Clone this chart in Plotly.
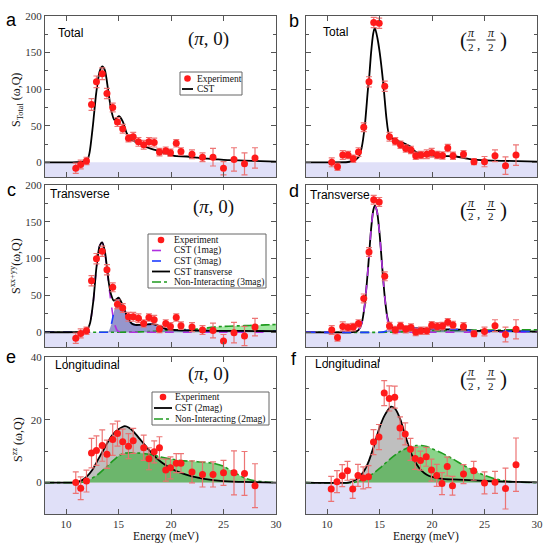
import plotly.graph_objects as go

W = H = 543
SERIF = "Liberation Serif"
SANS = "Liberation Sans"

# ---------------- data ----------------
# Panel a: Total, (pi,0)
a_exp_x = [10.93, 11.4, 11.95, 12.43, 12.9, 13.45, 13.9, 14.45, 14.9, 15.4, 15.95, 16.4, 16.9, 17.4,
           17.9, 18.4, 18.9, 19.5, 19.95, 20.5, 20.95, 22, 23, 24, 25, 26, 27, 28]
a_exp_y = [-8, -3, 2, 79, 110, 121, 94, 75, 55, 46, 33, 35, 28, 24,
           28, 27, 14, 16, 13, 26, 15, 11, 7, 7, -8, 4, -2, 6]
a_exp_e = [7, 6, 5, 8, 8, 8, 7, 6, 6, 6, 5, 6, 6, 6,
           6, 6, 5, 5, 5, 5, 5, 6, 6, 12, 9, 16, 15, 14]
a_cst_x = [8, 10, 11, 11.5, 12, 12.24, 12.56, 12.88, 13.2, 13.45, 13.7, 14.0, 14.3, 14.6, 14.85, 15.05,
           15.4, 15.75, 16.1, 16.5, 17, 17.5, 18, 18.5, 19, 19.5, 20, 20.5, 21.5, 22.5, 23.5, 24.5,
           25.5, 27, 28.5, 30]
a_cst_y = [0, 0, 0.3, 0.8, 2, 13, 50, 95, 124, 131, 126, 100, 72, 58, 61, 63,
           56, 41, 32, 29, 26, 22, 19, 17, 15, 12, 9.5, 8.5, 8, 6.5, 5, 4,
           3, 2.5, 1.8, 1]

# Panel b: Total, (pi/2,pi/2)
b_exp_x = [10.45, 11, 11.5, 12, 12.5, 13, 13.5, 14, 14.45, 14.97, 15.5, 15.95, 16.5, 17, 17.5, 18,
           18.45, 18.95, 19.5, 19.97, 20.5, 21, 21.5, 22, 23, 24, 25, 26, 27, 28]
b_exp_y = [0, -6, 10, 10, 5, 14, 48, 110, 191, 190, 104, 35, 29, 24, 19, 17,
           9, 10, 11, 13, 10, 9.5, 19.5, 9, 11, 1, 1, 9, -4.5, 10]
b_exp_e = [6, 5, 6, 5, 5, 6, 6, 7, 7, 7, 7, 6, 5, 5, 5, 5,
           5, 5, 6, 6, 5, 5, 5, 5, 5, 4, 7, 8, 12, 14]
b_cst_x = [8, 10, 12, 12.5, 13, 13.3, 13.6, 13.9, 14.0, 14.2, 14.4, 14.55, 14.8, 15.03, 15.35, 15.67,
           15.9, 16.2, 16.6, 17.0, 17.5, 17.9, 18.3, 18.8, 19.5, 20.4, 21.3, 22.3, 23.6, 25.2, 27, 30]
b_cst_y = [0, 0, 0.5, 2, 7, 20, 50, 100, 113, 150, 176, 184, 170, 149, 109, 59,
           38, 33, 30, 28, 25, 22, 16, 12, 10, 9, 8.5, 8, 4.5, 2.7, 2, 1]

# Panel c: Transverse, (pi,0)
c_exp_x = [10.93, 11.4, 11.95, 12.43, 12.9, 13.45, 13.9, 14.45, 14.9, 15.4, 15.95, 16.4, 16.9, 17.4,
           17.9, 18.4, 18.9, 19.5, 19.95, 20.5, 20.95, 22, 23, 24, 25, 26, 27, 28]
c_exp_y = [-8, -1.5, 2, 70, 100, 110, 85, 61, 38, 33, 21, 21, 19, 12,
           20, 17, 4.5, 12, 8, 20, 9, 7, 3, 2.5, -12, -0.5, -5, 7]
c_exp_e = [7, 6, 5, 7, 7, 7, 7, 6, 6, 6, 6, 6, 6, 5,
           5, 6, 5, 5, 5, 5, 5, 6, 6, 10, 9, 14, 13, 12]
c_tot_x = [8, 10, 11, 11.5, 12, 12.3, 12.6, 12.9, 13.2, 13.45, 13.7, 13.9, 14.1, 14.3, 14.55, 14.8,
           15.0, 15.2, 15.45, 15.7, 15.9, 16.25, 16.6, 17, 17.6, 18.3, 19, 19.6, 20.5, 22, 24.5, 27, 30]
c_tot_y = [0, 0, 0.1, 0.6, 3, 13, 42, 88, 117, 122, 110, 88, 65, 51, 43, 45,
           47, 43, 35, 26, 19, 12, 10, 10, 10.5, 11, 8, 4, 3, 2.5, 2, 1.8, 1.5]
c_1mag_x = [8, 10, 11, 11.5, 12, 12.3, 12.6, 12.9, 13.2, 13.45, 13.7, 13.9, 14.2, 14.5, 14.7, 14.9,
            15.2, 16, 20, 25, 30]
c_1mag_y = [0, 0, 0.1, 0.6, 3, 13, 42, 88, 117, 122, 108, 85, 50, 20, 8, 2,
            0, 0, 0, 0, 0]
c_3mag_x = [8, 12, 13.5, 14.0, 14.3, 14.6, 14.9, 15.05, 15.4, 15.9, 16.25, 16.6, 17, 17.6, 18.3, 19,
            19.6, 20.5, 22, 24.5, 27, 30]
c_3mag_y = [0, 0, 0, 0.5, 10, 30, 44, 46, 36, 19, 12, 10, 10, 10.5, 11, 8,
            4, 3, 2.5, 2, 1.8, 1.5]
c_ni_x = [8, 14, 16, 18, 19, 20, 21, 22, 23, 24, 25, 26, 27, 28, 29, 30]
c_ni_y = [0, 0, 0.3, 1, 2, 3, 3.5, 4, 5, 7, 8, 8.5, 9, 9.5, 10, 10.5]

# Panel d: Transverse, (pi/2,pi/2)
d_exp_x = [10.45, 11, 11.5, 12, 12.5, 13, 13.5, 14, 14.45, 14.97, 15.5, 15.95, 16.5, 17, 17.5, 18,
           18.45, 18.95, 19.5, 19.97, 20.5, 21, 21.5, 22, 23, 24, 25, 26, 27, 28]
d_exp_y = [3, -7, 8, 6.5, 7, 12, 46, 109, 180, 177, 76, 8.5, 3, 8.5, 4, 6.5,
           0.5, 2, 2, 9.5, 8, 8.5, 13.5, 10, 8, -2, 1, 9, -3, 4]
d_exp_e = [6, 5, 6, 5, 5, 5, 6, 6, 6, 6, 6, 5, 5, 5, 5, 5,
           5, 5, 5, 5, 5, 5, 5, 5, 5, 4, 6, 8, 10, 13]
d_tot_x = [8, 12, 12.6, 13, 13.3, 13.6, 13.9, 14.2, 14.4, 14.55, 14.75, 15.0, 15.25, 15.5, 15.75, 16.0,
           16.3, 16.6, 17, 17.5, 18, 18.5, 19, 20, 21, 22, 23, 24, 25, 27, 30]
d_tot_y = [0, 0, 0.5, 3, 12, 38, 85, 140, 165, 172, 165, 135, 90, 48, 20, 9,
           6, 6, 6.5, 7, 6.5, 5.5, 5, 4.5, 4, 4, 3.5, 2, 2, 1.5, 1]
d_1mag_x = [8, 12, 12.6, 13, 13.3, 13.6, 13.9, 14.2, 14.4, 14.55, 14.75, 15.0, 15.25, 15.5, 15.75, 16.0,
            16.3, 16.6, 17, 20, 25, 30]
d_1mag_y = [0, 0, 0.5, 3, 12, 38, 85, 140, 165, 172, 165, 135, 90, 48, 18, 5,
            1.5, 0.3, 0, 0, 0, 0]
d_3mag_x = [8, 15, 15.4, 15.8, 16.2, 16.6, 17, 17.5, 18, 18.5, 19, 20, 21, 22, 23, 24, 25, 27, 30]
d_3mag_y = [0, 0, 0.5, 2.5, 5, 6, 6.5, 7, 6.5, 5.5, 5, 4.5, 4, 4, 3.5, 2, 2, 1.5, 1]
d_ni_x = [8, 16, 17, 18, 20, 22, 24, 26, 28, 30]
d_ni_y = [0, 0, 0.5, 1.5, 2, 2.5, 3, 3, 3.5, 3.5]

# Panel e: Longitudinal, (pi,0)
e_exp_x = [10.93, 11.4, 11.95, 12.43, 12.9, 13.45, 13.9, 14.45, 14.9, 15.4, 15.95, 16.4, 17.4, 17.9,
           18.4, 18.9, 19.5, 19.95, 20.5, 20.95, 22, 23, 24, 25, 26, 27, 28]
e_exp_y = [0, -1.8, 0.5, 9.4, 10.2, 11.8, 9, 13.7, 15.6, 13, 11.6, 13.3, 11.1, 7.6,
           9.8, 11.1, 4, 4.7, 6.2, 6.2, 3.4, 2.6, 2.6, 3.1, 3.1, 2.9, -1]
e_exp_e = [3.4, 3.6, 3.5, 4.7, 4.7, 5, 4.5, 5, 4, 4, 4, 4, 4, 3.5,
           3.5, 3.5, 3.5, 3.5, 3, 3, 3.5, 4, 4, 4, 7, 7, 7]
e_cst_x = [8, 10, 11, 11.5, 12, 12.5, 13, 13.5, 14, 14.5, 15, 15.6, 16, 16.5, 17, 17.5,
           18, 18.5, 19, 19.5, 20, 21, 22, 23, 24, 25, 27, 30]
e_cst_y = [0, 0, 0.1, 0.7, 2, 4, 7, 10, 13, 15.5, 17, 18, 17.5, 16, 14, 12,
           10, 8.2, 6.7, 5.5, 4.5, 3, 2, 1.3, 0.8, 0.5, 0.2, 0]
e_ni_x = [8, 11, 11.5, 12, 13, 14, 15, 15.5, 16, 17, 18, 19, 20, 21, 22, 23,
          24, 25, 26, 27, 28, 29, 30]
e_ni_y = [0, 0, 0.1, 0.5, 2.5, 5.5, 8.5, 9.3, 9.5, 9.4, 9, 8.2, 7.5, 7, 6.8, 6.5,
          6.2, 5.2, 3.3, 1.5, 0.6, 0.2, 0]

# Panel f: Longitudinal, (pi/2,pi/2)
f_exp_x = [10.4, 10.95, 11.45, 11.95, 12.45, 12.95, 13.45, 13.95, 14.43, 14.95, 15.45, 15.93, 16.45,
           16.95, 17.45, 17.95, 18.4, 18.9, 19.45, 19.95, 20.45, 20.95, 21.45, 21.95, 23, 23.97,
           25, 26, 27, 28]
f_exp_y = [-2, 0.3, 2.2, 3.75, -2, 2.3, 1.5, 1.9, 12.9, 14.5, 28.5, 26.8, 27.2,
           17.4, 15.5, 10.6, 7.7, 7, 8.2, 4, 2.3, -0.3, 5.1, -1, 2.7, 3.75,
           -0.1, 0.1, -1.9, 5.7]
f_exp_e = [4, 3.5, 3.5, 3, 3, 3.5, 3.5, 3.5, 4, 4, 4, 4, 3.5,
           3.5, 3.5, 3.5, 3.5, 3, 3, 3.5, 3.5, 3.5, 3, 3, 3, 3,
           3.5, 3.5, 6.5, 8.5]
f_cst_x = [8, 12, 12.5, 13, 13.5, 14, 14.5, 15, 15.5, 16.1, 16.5, 17, 17.5, 18, 18.5, 19,
           19.5, 20, 21, 22, 24, 26, 28, 30]
f_cst_y = [0, 0, 0.5, 1.5, 3.5, 7, 12, 17.5, 21.5, 24.2, 23.5, 20, 14.5, 9.5, 6, 3.8,
           2.5, 1.8, 1.2, 1, 0.7, 0.4, 0.2, 0.1]
f_ni_x = [8, 12.5, 13, 14, 15, 16, 17, 18, 18.5, 19, 19.5, 20, 21, 22, 23, 24,
          25, 26, 27, 28, 29, 30]
f_ni_y = [0, 0, 0.5, 2, 4.5, 7.5, 10, 11.5, 11.8, 11.8, 11.5, 10.8, 9.3, 7.5, 5.5, 3.8,
          2.3, 1.2, 0.5, 0.2, 0.05, 0]

# ---------------- styles ----------------
RED = "#ff1a1a"
ERRC = "rgba(236,110,110,0.95)"
BLACK = "#000000"
PURPLE = "#b030e0"
BLUE = "#1c3cff"
GREEN = "#1f9a1f"
BLUE_FILL = "rgba(80,80,170,0.6)"
GREEN_FILL_LIGHT = "rgba(70,210,70,0.5)"
GRAY_FILL = "rgba(128,128,128,0.5)"
GREEN_FILL = "rgba(40,175,40,0.55)"
LAVENDER = "#e0e0f8"


def PX(x):
    return x / W


def PY(y):
    return 1 - y / H


fig = go.Figure()


def exp_trace(x, y, e, ax):
    fig.add_trace(go.Scatter(
        x=x, y=y, mode="markers", xaxis="x" + ax, yaxis="y" + ax, showlegend=False,
        marker=dict(color=RED, size=7),
        error_y=dict(type="data", array=e, color=ERRC, thickness=1.2, width=3),
    ))


def curve(x, y, ax, color, dash="solid", width=1.8):
    fig.add_trace(go.Scatter(
        x=x, y=y, mode="lines", xaxis="x" + ax, yaxis="y" + ax, showlegend=False,
        line=dict(color=color, dash=dash, width=width, shape="spline", smoothing=0.7),
    ))


def area(x, y, ax, fillcolor):
    fig.add_trace(go.Scatter(
        x=x, y=y, mode="lines", xaxis="x" + ax, yaxis="y" + ax, showlegend=False,
        line=dict(width=0, shape="spline", smoothing=0.7), fill="tozeroy", fillcolor=fillcolor,
        hoverinfo="skip",
    ))


# a
curve(a_cst_x, a_cst_y, "", BLACK)
exp_trace(a_exp_x, a_exp_y, a_exp_e, "")
# b
curve(b_cst_x, b_cst_y, "2", BLACK)
exp_trace(b_exp_x, b_exp_y, b_exp_e, "2")
# c
area(c_ni_x, c_ni_y, "3", GREEN_FILL_LIGHT)
area(c_3mag_x, c_3mag_y, "3", BLUE_FILL)
curve(c_ni_x, c_ni_y, "3", GREEN, dash="dashdot", width=1.6)
curve(c_1mag_x, c_1mag_y, "3", PURPLE, dash="dash", width=1.6)
curve(c_3mag_x, c_3mag_y, "3", BLUE, dash="dash", width=1.6)
curve(c_tot_x, c_tot_y, "3", BLACK)
exp_trace(c_exp_x, c_exp_y, c_exp_e, "3")
# d
area(d_ni_x, d_ni_y, "4", GREEN_FILL_LIGHT)
area(d_3mag_x, d_3mag_y, "4", BLUE_FILL)
curve(d_ni_x, d_ni_y, "4", GREEN, dash="dashdot", width=1.6)
curve(d_tot_x, d_tot_y, "4", BLACK)
curve(d_1mag_x, d_1mag_y, "4", PURPLE, dash="dash", width=1.6)
curve(d_3mag_x, d_3mag_y, "4", BLUE, dash="dash", width=1.6)
exp_trace(d_exp_x, d_exp_y, d_exp_e, "4")
# e
area(e_cst_x, e_cst_y, "5", GRAY_FILL)
area(e_ni_x, e_ni_y, "5", GREEN_FILL)
curve(e_ni_x, e_ni_y, "5", GREEN, dash="dashdot", width=1.6)
curve(e_cst_x, e_cst_y, "5", BLACK)
exp_trace(e_exp_x, e_exp_y, e_exp_e, "5")
# f
area(f_cst_x, f_cst_y, "6", GRAY_FILL)
area(f_ni_x, f_ni_y, "6", GREEN_FILL)
curve(f_ni_x, f_ni_y, "6", GREEN, dash="dashdot", width=1.6)
curve(f_cst_x, f_cst_y, "6", BLACK)
exp_trace(f_exp_x, f_exp_y, f_exp_e, "6")

# ---------------- axes ----------------
col_dom = [[PX(45), PX(276)], [PX(306), PX(537)]]
row_dom = [[PY(177), PY(16)], [PY(347), PY(185)], [PY(514), PY(357)]]

base = dict(showline=True, mirror="allticks", linecolor="#555", linewidth=1, ticks="inside",
            ticklen=5, tickcolor="#555", showgrid=False, zeroline=False, automargin=False,
            tickfont=dict(family=SERIF, size=11, color="#333"))

layout_axes = {}
shapes = []
names = ["", "2", "3", "4", "5", "6"]
for i, n in enumerate(names):
    r, c = divmod(i, 2)
    xa = dict(base, domain=col_dom[c], range=[8, 30], tick0=0, dtick=5,
              anchor="y" + n, showticklabels=(r == 2))
    if r < 2:
        ya = dict(base, domain=row_dom[r], range=[-20, 200], tick0=0, dtick=50,
                  minor=dict(ticks="inside", ticklen=3, dtick=25, tickcolor="#555"))
        ylow = -20
    else:
        ya = dict(base, domain=row_dom[r], range=[-10, 40], tick0=0, dtick=20,
                  minor=dict(ticks="inside", ticklen=3, dtick=10, tickcolor="#555"))
        ylow = -10
    ya.update(anchor="x" + n, showticklabels=(c == 0))
    layout_axes["xaxis" + n] = xa
    layout_axes["yaxis" + n] = ya
    shapes.append(dict(type="rect", xref="x" + n + " domain", yref="y" + n, x0=0, x1=1,
                       y0=ylow, y1=0, fillcolor=LAVENDER, line=dict(width=0), layer="below"))

annotations = []


def txt(x, y, s, size, family=SERIF, xanchor="center", angle=0, color="#111"):
    annotations.append(dict(x=PX(x), y=PY(y), xref="paper", yref="paper", text=s,
                            showarrow=False, xanchor=xanchor, yanchor="middle", textangle=angle,
                            font=dict(family=family, size=size, color=color), borderpad=0))


# panel letters
for s, x, y in [("a", 11, 20), ("b", 294, 21), ("c", 11, 190), ("d", 294, 191), ("e", 11, 357), ("f", 294, 359)]:
    txt(x, y, s, 18, family=SANS, color="#000")

# panel titles
txt(57, 33, "Total", 12, family=SANS, xanchor="left", color="#000")
txt(322, 32, "Total", 12, family=SANS, xanchor="left", color="#000")
txt(49, 194, "Transverse", 12, family=SANS, xanchor="left", color="#000")
txt(309, 195, "Transverse", 12, family=SANS, xanchor="left", color="#000")
txt(54, 365, "Longitudinal", 12, family=SANS, xanchor="left", color="#000")
txt(314, 364, "Longitudinal", 12, family=SANS, xanchor="left", color="#000")

# momentum labels
txt(208, 39, "(<i>π</i>, 0)", 19)
txt(213, 207, "(<i>π</i>, 0)", 19)
txt(208, 374, "(<i>π</i>, 0)", 19)


def frac_label(cy):
    txt(463, cy, "(", 21)
    txt(503, cy, ")", 21)
    txt(478, cy + 4, ",", 13)
    for cx in (471, 491):
        txt(cx, cy - 7, "<i>π</i>", 12)
        txt(cx, cy + 6.5, "2", 11)
        shapes.append(dict(type="line", xref="paper", yref="paper", x0=PX(cx - 4.5), x1=PX(cx + 4.5),
                           y0=PY(cy), y1=PY(cy), line=dict(color="#111", width=1), layer="above"))


frac_label(40)
frac_label(209.5)
frac_label(379)

# axis titles
txt(17, 100, "S<sub>Total</sub> (ω,Q)", 12, angle=-90)
txt(15, 266, "S<sup>xx+yy</sup>(ω,Q)", 12, angle=-90)
txt(17, 440, "S<sup>zz</sup> (ω,Q)", 12, angle=-90)
txt(166, 536.5, "Energy (meV)", 11.5)
txt(426, 536.5, "Energy (meV)", 11.5)


# custom legends
def leg_box(x0, y0, x1, y1):
    shapes.append(dict(type="rect", xref="paper", yref="paper", x0=PX(x0), x1=PX(x1),
                       y0=PY(y1), y1=PY(y0), fillcolor="white", line=dict(color="#666", width=1),
                       layer="above"))


def leg_line(x0, x1, y, color, dash="solid", width=1.8):
    shapes.append(dict(type="line", xref="paper", yref="paper", x0=PX(x0), x1=PX(x1),
                       y0=PY(y), y1=PY(y), line=dict(color=color, width=width, dash=dash), layer="above"))


def leg_dot(cx, cy, r=3.3):
    shapes.append(dict(type="circle", xref="paper", yref="paper", x0=PX(cx - r), x1=PX(cx + r),
                       y0=PY(cy + r), y1=PY(cy - r), fillcolor=RED, line=dict(width=0), layer="above"))


LF = 9.5
# legend a
leg_box(180, 72, 242, 95)
leg_dot(187.5, 78.5)
txt(196, 78.5, "Experiment", LF, xanchor="left")
leg_line(182, 193, 89, BLACK)
txt(196, 89, "CST", LF, xanchor="left")

# legend c
leg_box(148, 234, 266, 288)
leg_dot(161, 240)
txt(173, 240, "Experiment", LF, xanchor="left")
leg_line(152, 170, 250.5, PURPLE, "dash", 1.6)
txt(173, 250.5, "CST (1mag)", LF, xanchor="left")
leg_line(152, 170, 261, BLUE, "dash", 1.6)
txt(173, 261, "CST (3mag)", LF, xanchor="left")
leg_line(152, 170, 271.5, BLACK)
txt(173, 271.5, "CST transverse", LF, xanchor="left")
leg_line(152, 170, 282, GREEN, "dashdot", 1.6)
txt(173, 282, "Non-Interacting (3mag)", LF, xanchor="left")

# legend e
leg_box(152, 392, 269, 425)
leg_dot(163, 397)
txt(174, 397, "Experiment", LF, xanchor="left")
leg_line(154, 172, 408, BLACK)
txt(174, 408, "CST (2mag)", LF, xanchor="left")
leg_line(154, 172, 419, GREEN, "dashdot", 1.6)
txt(174, 419, "Non-Interacting (2mag)", LF, xanchor="left")

fig.update_layout(
    width=W, height=H, margin=dict(l=0, r=0, t=0, b=0),
    paper_bgcolor="white", plot_bgcolor="white", showlegend=False,
    shapes=shapes, annotations=annotations, **layout_axes,
)

fig.write_html("out.html", config={"displayModeBar": False},
               post_script="document.body.style.margin='0px';document.body.style.overflow='hidden';")
